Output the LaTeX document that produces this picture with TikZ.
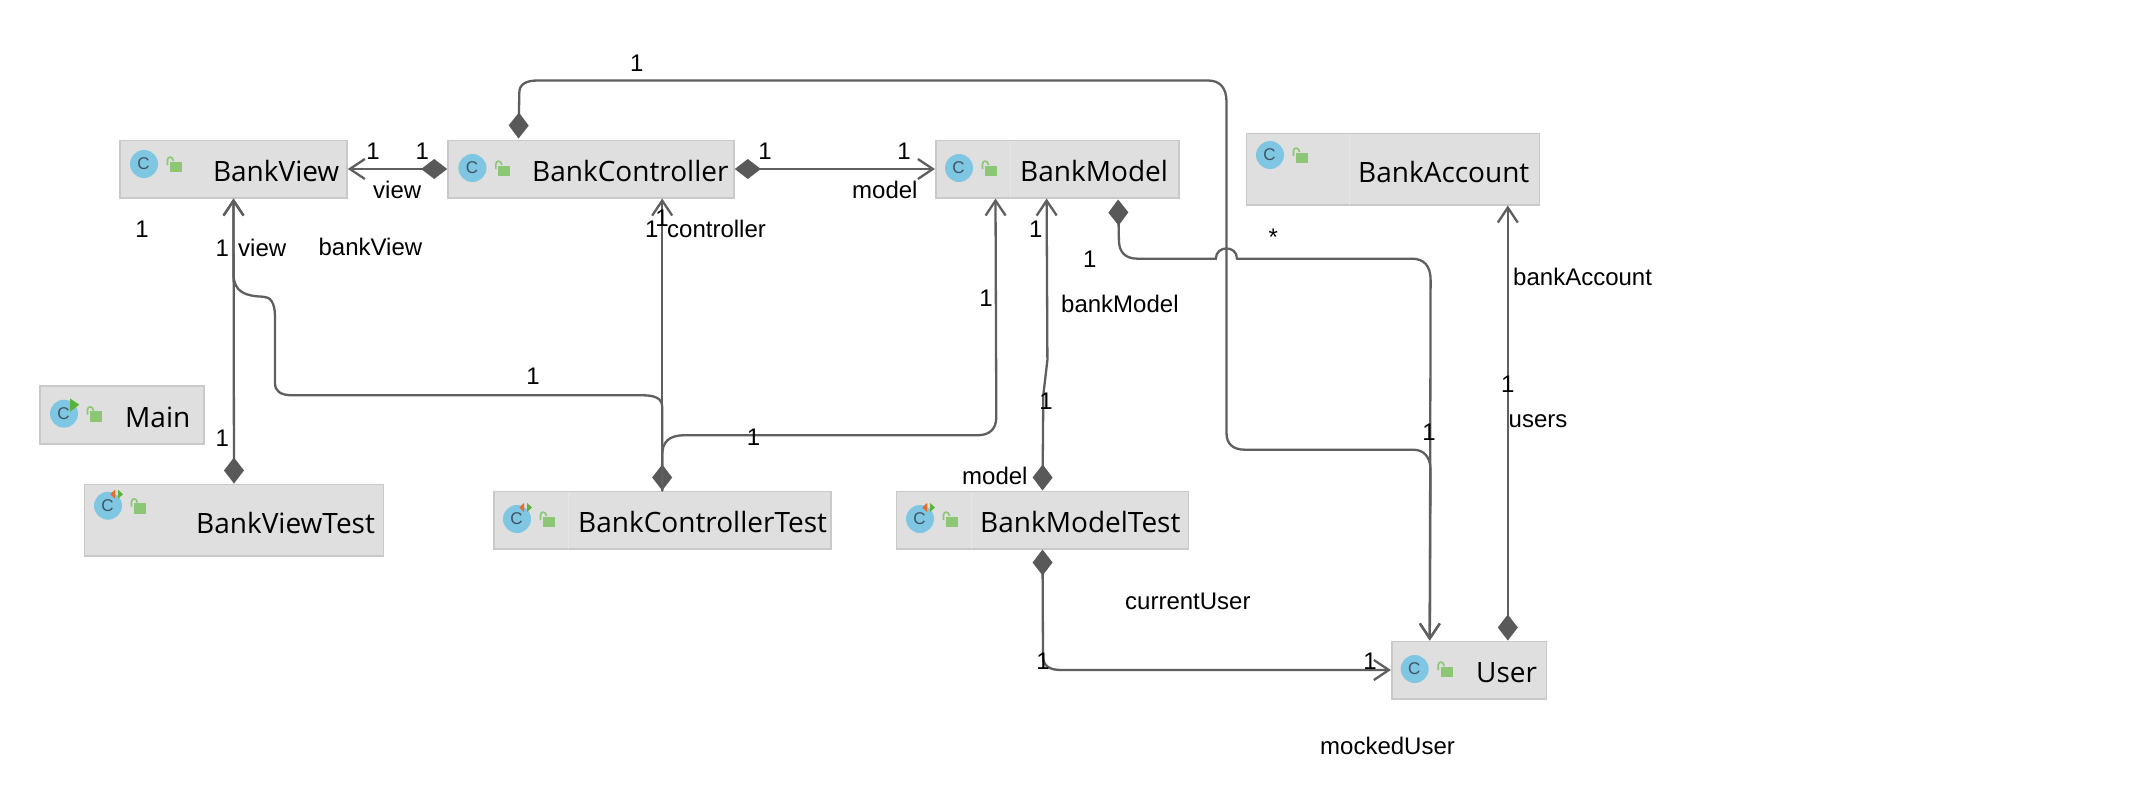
\documentclass[tikz,border=0pt]{standalone}
\usepackage{fontspec}
\setmainfont{Liberation Sans}
\newfontfamily\clsfont{Open Sans}
\usetikzlibrary{arrows.meta,calc}
\definecolor{boxfill}{HTML}{DFDFDF}
\definecolor{boxline}{HTML}{C9C9C9}
\definecolor{divline}{HTML}{E5E5E5}
\definecolor{conn}{HTML}{5F5F5F}
\definecolor{dia}{HTML}{595959}
\definecolor{iconblue}{HTML}{7FC6E2}
\definecolor{icontext}{HTML}{3E5463}
\definecolor{lockgreen}{HTML}{8CC776}
\definecolor{rungreen}{HTML}{5BB33B}
\definecolor{testorange}{HTML}{EC6A2C}
\tikzset{
  x=1pt,y=-1pt,
  cls/.style={draw=boxline,fill=boxfill,line width=1.6pt,inner sep=0pt,rectangle},
  clsname/.style={anchor=base west,inner sep=0pt,text=black,font=\clsfont\fontsize{28}{30}\selectfont},
  lbl/.style={anchor=base west,inner sep=0pt,text=black,font=\fontsize{24}{26}\selectfont},
  num/.style={anchor=base,inner sep=0pt,text=black,font=\fontsize{24}{26}\selectfont},
  divider/.style={draw=divline,line width=1pt},
  assoc/.style={draw=conn,line width=2.3pt,line cap=round},
  compohead/.style={{Diamond[length=26pt,width=20pt,color=dia,fill=dia]}-{Straight Barb[length=15pt,width=20pt,line width=2.3pt,color=conn]}},
  headv/.style={-{Straight Barb[length=15pt,width=20pt,line width=2.3pt,color=conn]}},
  baseicon/.pic={
    \fill[iconblue] (0,0) circle[radius=14];
    \node[inner sep=0pt,text=icontext,font=\fontsize{17}{17}\selectfont] (-c) at (-0.5,0) {C};
    \fill[lockgreen] (26,-2.3) rectangle (38,8);
    \draw[lockgreen,line width=1.6pt] (23.5,1) -- (23.5,-4) .. controls (23.5,-8) and (29,-8) .. (29.5,-3);
  },
  runicon/.pic={
    \pic {baseicon};
    \fill[rungreen] (6,-15.3) -- (15.3,-9) -- (6,-2) -- cycle;
  },
  testicon/.pic={
    \pic {baseicon};
    \fill[testorange] (7,-16) -- (7,-7) -- (2.3,-11.5) -- cycle;
    \fill[rungreen] (10,-16) -- (15,-11.5) -- (10,-7) -- cycle;
  },
}
\begin{document}
\begin{tikzpicture}
\useasboundingbox (0,0) rectangle (2152,806);
\fill[white] (0,0) rectangle (2152,806);

% class boxes
\node[cls,minimum width=227pt,minimum height=57.4pt] (BankView) at (233.5,169) {};
\node[cls,minimum width=286pt,minimum height=57.4pt] (BankController) at (591,169) {};
\node[cls,minimum width=243pt,minimum height=57.4pt] (BankModel) at (1057.2,169) {};
\node[cls,minimum width=293pt,minimum height=71.4pt] (BankAccount) at (1392.9,169) {};
\node[cls,minimum width=164pt,minimum height=57.7pt] (Main) at (122,414.9) {};
\node[cls,minimum width=299pt,minimum height=71.4pt] (BankViewTest) at (234,520) {};
\node[cls,minimum width=337pt,minimum height=57.4pt] (BankControllerTest) at (662.2,520) {};
\node[cls,minimum width=292pt,minimum height=57.4pt] (BankModelTest) at (1042.5,520) {};
\node[cls,minimum width=154.6pt,minimum height=57.4pt] (User) at (1469,670) {};

% compartment dividers
\draw[divider] ($(BankModel.north west)+(76,1)$) -- ($(BankModel.south west)+(76,-1)$);
\draw[divider] ($(BankAccount.north west)+(104,1)$) -- ($(BankAccount.south west)+(104,-1)$);
\draw[divider] ($(BankControllerTest.north west)+(76,1)$) -- ($(BankControllerTest.south west)+(76,-1)$);
\draw[divider] ($(BankModelTest.north west)+(76,1)$) -- ($(BankModelTest.south west)+(76,-1)$);

% icons
\pic (iv) at (144,164) {baseicon};
\pic (ic) at (472.4,168) {baseicon};
\pic (im) at (959,168) {baseicon};
\pic (ia) at (1270,155) {baseicon};
\pic (iu) at (1414.7,669) {baseicon};
\pic (ir) at (64,413.7) {runicon};
\pic (ivt) at (108,505.7) {testicon};
\pic (ict) at (517,519) {testicon};
\pic (imt) at (920,519) {testicon};

% connectors
\draw[assoc,compohead] (BankController.west) -- (BankView.east);
\draw[assoc,compohead] (BankController.east) -- (BankModel.west);
\draw[assoc,compohead] (BankViewTest.north) -- (BankView.south);
\draw[assoc,compohead] (BankControllerTest.north) -- (BankControllerTest.north |- BankController.south);
\draw[assoc,headv] (BankControllerTest.north) -- (662.2,406.7) .. controls (662.2,398) and (654,395.3) .. (643,395.3)
  -- (293,395.3) .. controls (280,395.3) and (275,391) .. (275,383)
  -- (275,316.7) .. controls (275,302) and (270,296.7) .. (263,296.7)
  .. controls (245,296) and (234.2,292) .. (233.5,275) -- (BankView.south);
\draw[assoc,headv] (BankControllerTest.north) -- (662.2,455) .. controls (662.2,442) and (669,435.3) .. (684,435.3)
  -- (976.7,435.3) .. controls (990,435.3) and (996.3,429) .. (996.3,416.7)
  -- ($(BankModel.south west)+(60.6,0)$);
\draw[assoc,compohead] (BankModelTest.north) -- (1043.3,395) -- (1047.4,360) -- ($(BankModel.south west)+(111.7,0)$);
\draw[assoc,compohead] (BankModelTest.south) -- (1043,656.7) .. controls (1043,666) and (1050,670) .. (1061,670) -- (User.west);
\draw[assoc,compohead] ($(BankController.north west)+(71.3,-1)$) -- (519.3,93) .. controls (519.3,84) and (526,80.5) .. (538,80.5)
  -- (1208,80.5) .. controls (1220,80.5) and (1226.5,88) .. (1226.5,101.7)
  -- (1226.5,433) .. controls (1226.5,444) and (1233,449.7) .. (1245,449.7)
  -- (1413,449.7) .. controls (1424,449.7) and (1430.5,457) .. (1430.5,470)
  -- ($(User.north west)+(38.8,0)$);
\draw[assoc,compohead] ($(BankModel.south west)+(183.2,1)$) -- (1118.9,240) .. controls (1118.9,252) and (1125,258.7) .. (1137.8,258.7)
  -- (1215.8,258.7) .. controls (1216,245) and (1237,245) .. (1237,258.7)
  -- (1412,258.7) .. controls (1424,258.7) and (1430.6,266) .. (1430.6,280)
  -- ($(User.north west)+(38.9,0)$);
\draw[assoc,compohead] ($(User.north west)+(116.9,0)$) -- ($(BankAccount.south west)+(262.2,0)$);

% class names
\node[clsname] (tBankView) at (212.8,181.7) {BankView};
\node[clsname] (tBankController) at (532,181.7) {BankController};
\node[clsname] (tBankModel) at (1020,181.7) {BankModel};
\node[clsname] (tBankAccount) at (1358,182.7) {BankAccount};
\node[clsname] (tMain) at (125,427) {Main};
\node[clsname] (tBankViewTest) at (196,533) {BankViewTest};
\node[clsname] (tBankControllerTest) at (578,532.5) {BankControllerTest};
\node[clsname] (tBankModelTest) at (980,532.7) {BankModelTest};
\node[clsname] (tUser) at (1476,682.7) {User};

% role labels
\node[lbl] (lview) at (373,198.3) {view};
\node[lbl] (lmodel) at (852,198.3) {model};
\node[lbl] (lviewb) at (238,256.7) {view};
\node[lbl] (lbankView) at (318.4,255.7) {bankView};
\node[lbl] (lcontroller) at (667,237.3) {controller};
\node[lbl] (lbankModel) at (1061,312.7) {bankModel};
\node[lbl] (lbankAccount) at (1513,285.7) {bankAccount};
\node[lbl] (lusers) at (1508.5,427) {users};
\node[lbl] (lmodelt) at (962,484.3) {model};
\node[lbl] (lcurrentUser) at (1125,609.3) {currentUser};
\node[lbl] (lmockedUser) at (1320,754) {mockedUser};
\node[lbl] (lstar) at (1268.5,245) {*};

% multiplicities
\node[num] (m1) at (373,159) {1};
\node[num] (m2) at (422.4,159) {1};
\node[num] (m3) at (765,159) {1};
\node[num] (m4) at (904,159) {1};
\node[num] (m5) at (142,237.7) {1};
\node[num] (m6) at (222.4,256.7) {1};
\node[num] (m7) at (533,384) {1};
\node[num] (m8) at (222.4,446.5) {1};
\node[num] (m9) at (651.7,237.3) {1};
\node[num] (m10) at (662,226.7) {1};
\node[num] (m11) at (753.6,445) {1};
\node[num] (m12) at (1035.7,237.3) {1};
\node[num] (m13) at (1089.8,267.3) {1};
\node[num] (m14) at (986,306.7) {1};
\node[num] (m15) at (636.7,71) {1};
\node[num] (m16) at (1046,409) {1};
\node[num] (m17) at (1507.7,392.7) {1};
\node[num] (m18) at (1429,440) {1};
\node[num] (m19) at (1043,669) {1};
\node[num] (m20) at (1370,669) {1};
\end{tikzpicture}
\end{document}
